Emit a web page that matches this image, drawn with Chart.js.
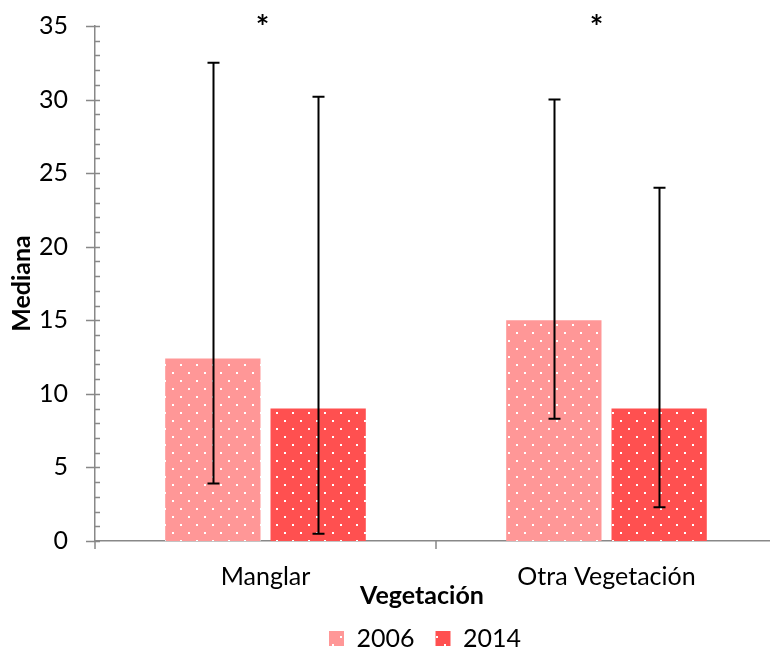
<!DOCTYPE html>
<html>
<head>
<meta charset="utf-8">
<script src="https://cdn.jsdelivr.net/npm/chart.js@4/dist/chart.umd.min.js"></script>
<style>
  html, body { margin: 0; padding: 0; background: #fff; overflow: hidden; }
  #wrap { width: 770px; height: 652px; position: relative; overflow: hidden; }
  #c { position: absolute; left: 0; top: -16px; }
</style>
</head>
<body>
<div id="wrap"><canvas id="c" width="777" height="677"></canvas></div>
<script>
// Categories and series
const categories = ['Manglar', 'Otra Vegetación'];
const seriesNames = ['2006', '2014'];
const mediana2006 = [12.4, 15.0];
const mediana2014 = [9.0, 9.0];
// Error bar ranges (low / high)
const low2006 = [3.9, 8.3];
const high2006 = [32.5, 30.0];
const low2014 = [0.5, 2.3];
const high2014 = [30.2, 24.0];
// Significance markers per category
const significance = ['*', '*'];
const yTicks = [0, 5, 10, 15, 20, 25, 30, 35];
const xTitle = 'Vegetación';
const yTitle = 'Mediana';

const FONT = 'Lato, "Open Sans", sans-serif';
const AXIS_COLOR = '#888888';

// Dotted fill: white dots on a staggered 16px grid
function dotPattern(color) {
  const c = document.createElement('canvas');
  c.width = 16; c.height = 16;
  const g = c.getContext('2d');
  g.fillStyle = color;
  g.fillRect(0, 0, 16, 16);
  g.fillStyle = '#ffffff';
  g.fillRect(4, 12, 2, 2);
  g.fillRect(12, 4, 2, 2);
  const ctx = document.getElementById('c').getContext('2d');
  return ctx.createPattern(c, 'repeat');
}

const fill2006 = dotPattern('#ff9797');
const fill2014 = dotPattern('#ff5050');

// Tick marks: majors cross the axis, minors sit inside; category boundaries on x
const axisTicks = {
  id: 'axisTicks',
  afterDraw(chart) {
    const ctx = chart.ctx;
    const y = chart.scales.y, x = chart.scales.x;
    const ax = chart.chartArea.left;
    const ay = chart.chartArea.bottom;
    ctx.save();
    ctx.strokeStyle = AXIS_COLOR;
    ctx.lineWidth = 1.5;
    ctx.beginPath();
    for (let v = y.min; v <= y.max; v += 1) {
      const py = Math.round(y.getPixelForValue(v)) + 0.5;
      const major = v % 5 === 0;
      ctx.moveTo(major ? ax - 9 : ax, py);
      ctx.lineTo(ax + 5, py);
    }
    for (let i = 0; i <= categories.length; i++) {
      const px = Math.round(x.getPixelForValue(i - 0.5));
      ctx.moveTo(px, ay);
      ctx.lineTo(px, ay + 8);
    }
    ctx.stroke();
    ctx.restore();
  }
};

// Error bars with caps at both ends
const errorBars = {
  id: 'errorBars',
  afterDatasetsDraw(chart) {
    const ctx = chart.ctx;
    const y = chart.scales.y;
    const ranges = [[low2006, high2006], [low2014, high2014]];
    ctx.save();
    ctx.strokeStyle = '#000';
    ctx.lineWidth = 2;
    chart.data.datasets.forEach((ds, di) => {
      const meta = chart.getDatasetMeta(di);
      meta.data.forEach((bar, i) => {
        const px = Math.round(bar.x) + 0.5;
        const yl = y.getPixelForValue(ranges[di][0][i]);
        const yh = y.getPixelForValue(ranges[di][1][i]);
        ctx.beginPath();
        ctx.moveTo(px, yl); ctx.lineTo(px, yh);
        ctx.moveTo(px - 6, yl); ctx.lineTo(px + 6, yl);
        ctx.moveTo(px - 6, yh); ctx.lineTo(px + 6, yh);
        ctx.stroke();
      });
    });
    ctx.restore();
  }
};

// Legend sits a little left of the plot centre
const legendShift = {
  id: 'legendShift',
  afterLayout(chart) {
    chart.legend.left -= 11;
    chart.legend.right -= 11;
  }
};

// Significance asterisks and the category-axis title
const annotations = {
  id: 'annotations',
  afterDraw(chart) {
    const ctx = chart.ctx;
    const x = chart.scales.x;
    const area = chart.chartArea;
    const nudge = [-3, -10];
    ctx.save();
    ctx.fillStyle = '#000';
    ctx.textAlign = 'center';
    ctx.font = 'bold 32px ' + FONT;
    ctx.textBaseline = 'alphabetic';
    significance.forEach((s, i) => {
      ctx.fillText(s, x.getPixelForValue(i) + nudge[i], area.top + 13);
    });
    ctx.font = 'bold 25px ' + FONT;
    ctx.textBaseline = 'middle';
    ctx.fillText(xTitle, (area.left + area.right) / 2 - 14, area.bottom + 55);
    ctx.restore();
  }
};

new Chart(document.getElementById('c'), {
  type: 'bar',
  data: {
    labels: categories,
    datasets: [
      { label: seriesNames[0], data: mediana2006, backgroundColor: fill2006,
        borderWidth: 0, categoryPercentage: 0.6176, barPercentage: 0.905 },
      { label: seriesNames[1], data: mediana2014, backgroundColor: fill2014,
        borderWidth: 0, categoryPercentage: 0.6176, barPercentage: 0.905 }
    ]
  },
  plugins: [axisTicks, errorBars, legendShift, annotations],
  options: {
    responsive: false,
    animation: false,
    devicePixelRatio: 1,
    layout: { padding: { top: 0, right: 0, left: 0, bottom: 0 } },
    plugins: {
      tooltip: { enabled: false },
      legend: {
        position: 'bottom',
        fullSize: false,
        labels: {
          color: '#000',
          font: { family: FONT, size: 25 },
          boxWidth: 15, boxHeight: 15,
          padding: 21
        }
      }
    },
    scales: {
      x: {
        grid: { display: false, drawTicks: false },
        border: { display: true, color: AXIS_COLOR, width: 1.5 },
        ticks: { color: '#000', font: { family: FONT, size: 25 }, padding: 21 },
        afterFit(scale) { scale.height = 64; }
      },
      y: {
        min: 0, max: 35,
        afterBuildTicks(scale) { scale.ticks = yTicks.map(v => ({ value: v })); },
        grid: { display: false, drawTicks: false },
        border: { display: true, color: AXIS_COLOR, width: 1.5 },
        ticks: { color: '#000', font: { family: FONT, size: 25 }, padding: 27 },
        title: { display: true, text: yTitle, color: '#000',
                 font: { family: FONT, size: 25, weight: 'bold' }, padding: { top: 7, bottom: 0 } },
        afterFit(scale) { scale.width = 95; }
      }
    }
  }
});
</script>
</body>
</html>
